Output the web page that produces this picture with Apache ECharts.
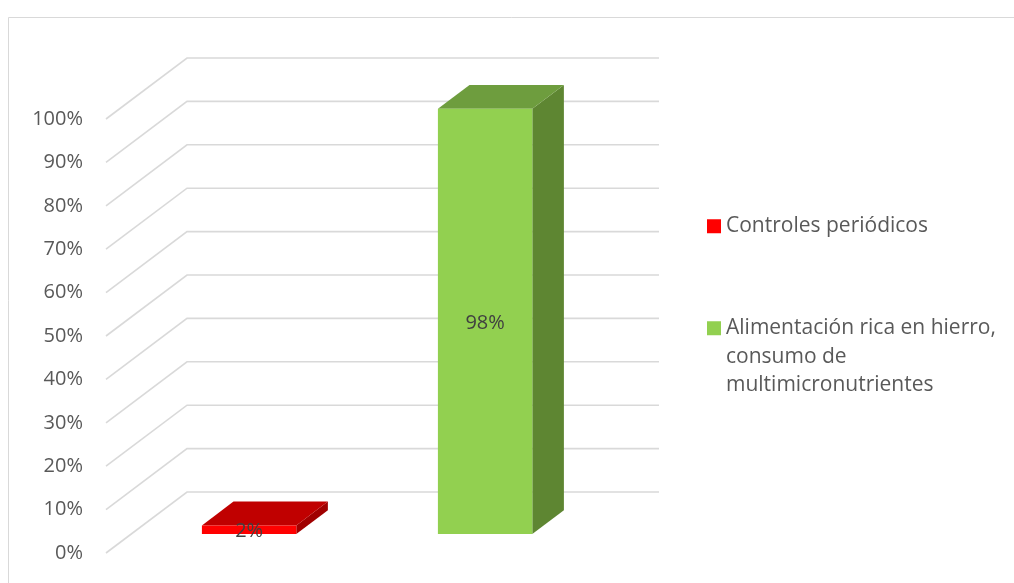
<!DOCTYPE html>
<html>
<head>
<meta charset="utf-8">
<script src="https://cdn.jsdelivr.net/npm/echarts@6/dist/echarts.min.js"></script>
<style>
  html, body { margin: 0; padding: 0; background: #ffffff; }
  #chart { width: 1014px; height: 583px; }
</style>
</head>
<body>
<div id="chart"></div>
<script>
// Series shown in the legend, one bar each
const seriesNames = ['Controles periódicos', 'Alimentación rica en hierro, consumo de multimicronutrientes'];
// Legend wording, split into lines; the two leading blank lines keep the
// marker level with the first line of the wrapped entry
const legendLines = {
  'Controles periódicos': 'Controles periódicos',
  'Alimentación rica en hierro, consumo de multimicronutrientes': '\n\nAlimentación rica en hierro,\nconsumo de\nmultimicronutrientes'
};
// Percentage for each series (one category slot per series)
const controlesValues = [2];
const alimentacionValues = [98];
const categories = ['Controles periódicos', 'Alimentación'];
// Value-axis ticks (percent)
const yTicks = [0, 10, 20, 30, 40, 50, 60, 70, 80, 90, 100];

// 3-D look: depth vector of the floor and where the bars sit along it
const DEPTH = [81, -61];
const FRONT_F = 0.31;
const BACK_F = 0.70;
const BAR_RATIO = 0.40;

const faceColors = [
  { front: '#ff0000', top: '#c00000', side: '#a00000' },
  { front: '#92d050', top: '#6e9d3e', side: '#5e8632' }
];

function gridRenderer(params, api) {
  const cs = params.coordSys;
  const y = api.coord([0, api.value(1)])[1];
  const x = cs.x;
  return {
    type: 'polyline',
    shape: { points: [[x, y], [x + DEPTH[0], y + DEPTH[1]], [x + DEPTH[0] + cs.width, y + DEPTH[1]]] },
    style: { stroke: '#d9d9d9', lineWidth: 1.6, fill: null },
    silent: true
  };
}

function boxRenderer(colorIdx) {
  return function (params, api) {
    const cat = api.value(0);
    const val = api.value(1);
    const base = api.coord([cat, 0]);
    const top = api.coord([cat, val]);
    const bw = api.size([1, 0])[0] * BAR_RATIO;
    const ox = DEPTH[0] * FRONT_F, oy = DEPTH[1] * FRONT_F;
    const dx = DEPTH[0] * (BACK_F - FRONT_F), dy = DEPTH[1] * (BACK_F - FRONT_F);
    const x0 = base[0] - bw / 2 + ox, x1 = x0 + bw;
    const yb = base[1] + oy, yt = top[1] + oy;
    const c = faceColors[colorIdx];
    return {
      type: 'group',
      children: [
        { type: 'polygon', shape: { points: [[x1, yb], [x1 + dx, yb + dy], [x1 + dx, yt + dy], [x1, yt]] }, style: { fill: c.side } },
        { type: 'polygon', shape: { points: [[x0, yt], [x0 + dx, yt + dy], [x1 + dx, yt + dy], [x1, yt]] }, style: { fill: c.top } },
        { type: 'rect', shape: { x: x0, y: yt, width: bw, height: yb - yt }, style: { fill: c.front } },
        {
          type: 'text',
          style: {
            text: val + '%', x: (x0 + x1) / 2, y: (yt + yb) / 2 + 2,
            align: 'center', verticalAlign: 'middle',
            fill: '#404040', font: '20px "Open Sans"'
          },
          z2: 10
        }
      ]
    };
  };
}

const chart = echarts.init(document.getElementById('chart'), null, { renderer: 'canvas' });

const legendText = { color: '#595959', fontSize: 21, lineHeight: 28.5, fontFamily: 'Open Sans' };

chart.setOption({
  animation: false,
  backgroundColor: '#ffffff',
  textStyle: { fontFamily: 'Open Sans' },
  graphic: [{
    type: 'rect',
    shape: { x: 8.5, y: 17.5, width: 1200, height: 800 },
    style: { fill: null, stroke: '#d9d9d9', lineWidth: 1 },
    silent: true, z: -10
  }],
  grid: { left: 106, right: 436, top: 119, bottom: 30, containLabel: false },
  xAxis: {
    type: 'category',
    data: categories,
    axisLine: { show: false }, axisTick: { show: false }, axisLabel: { show: false }, splitLine: { show: false }
  },
  yAxis: {
    type: 'value', min: 0, max: 100, interval: 10,
    axisLine: { show: false }, axisTick: { show: false }, splitLine: { show: false },
    axisLabel: { formatter: '{value}%', color: '#595959', fontSize: 20, margin: 23, fontFamily: 'Open Sans' }
  },
  legend: [{
    data: [seriesNames[0]],
    orient: 'vertical', left: 702, top: 207,
    itemWidth: 14, itemHeight: 14, icon: 'rect',
    formatter: n => legendLines[n],
    textStyle: legendText
  }, {
    data: [seriesNames[1]],
    orient: 'vertical', left: 702, top: 252,
    itemWidth: 14, itemHeight: 14, icon: 'rect',
    formatter: n => legendLines[n],
    textStyle: legendText
  }],
  series: [{
    type: 'custom',
    name: 'grid',
    renderItem: gridRenderer,
    data: yTicks.map(v => [0, v]),
    z: 1, silent: true
  }, {
    type: 'custom',
    name: seriesNames[0],
    renderItem: boxRenderer(0),
    itemStyle: { color: faceColors[0].front },
    data: controlesValues.map(v => [0, v]),
    z: 5
  }, {
    type: 'custom',
    name: seriesNames[1],
    renderItem: boxRenderer(1),
    itemStyle: { color: faceColors[1].front },
    data: alimentacionValues.map(v => [1, v]),
    z: 5
  }]
});
</script>
</body>
</html>
